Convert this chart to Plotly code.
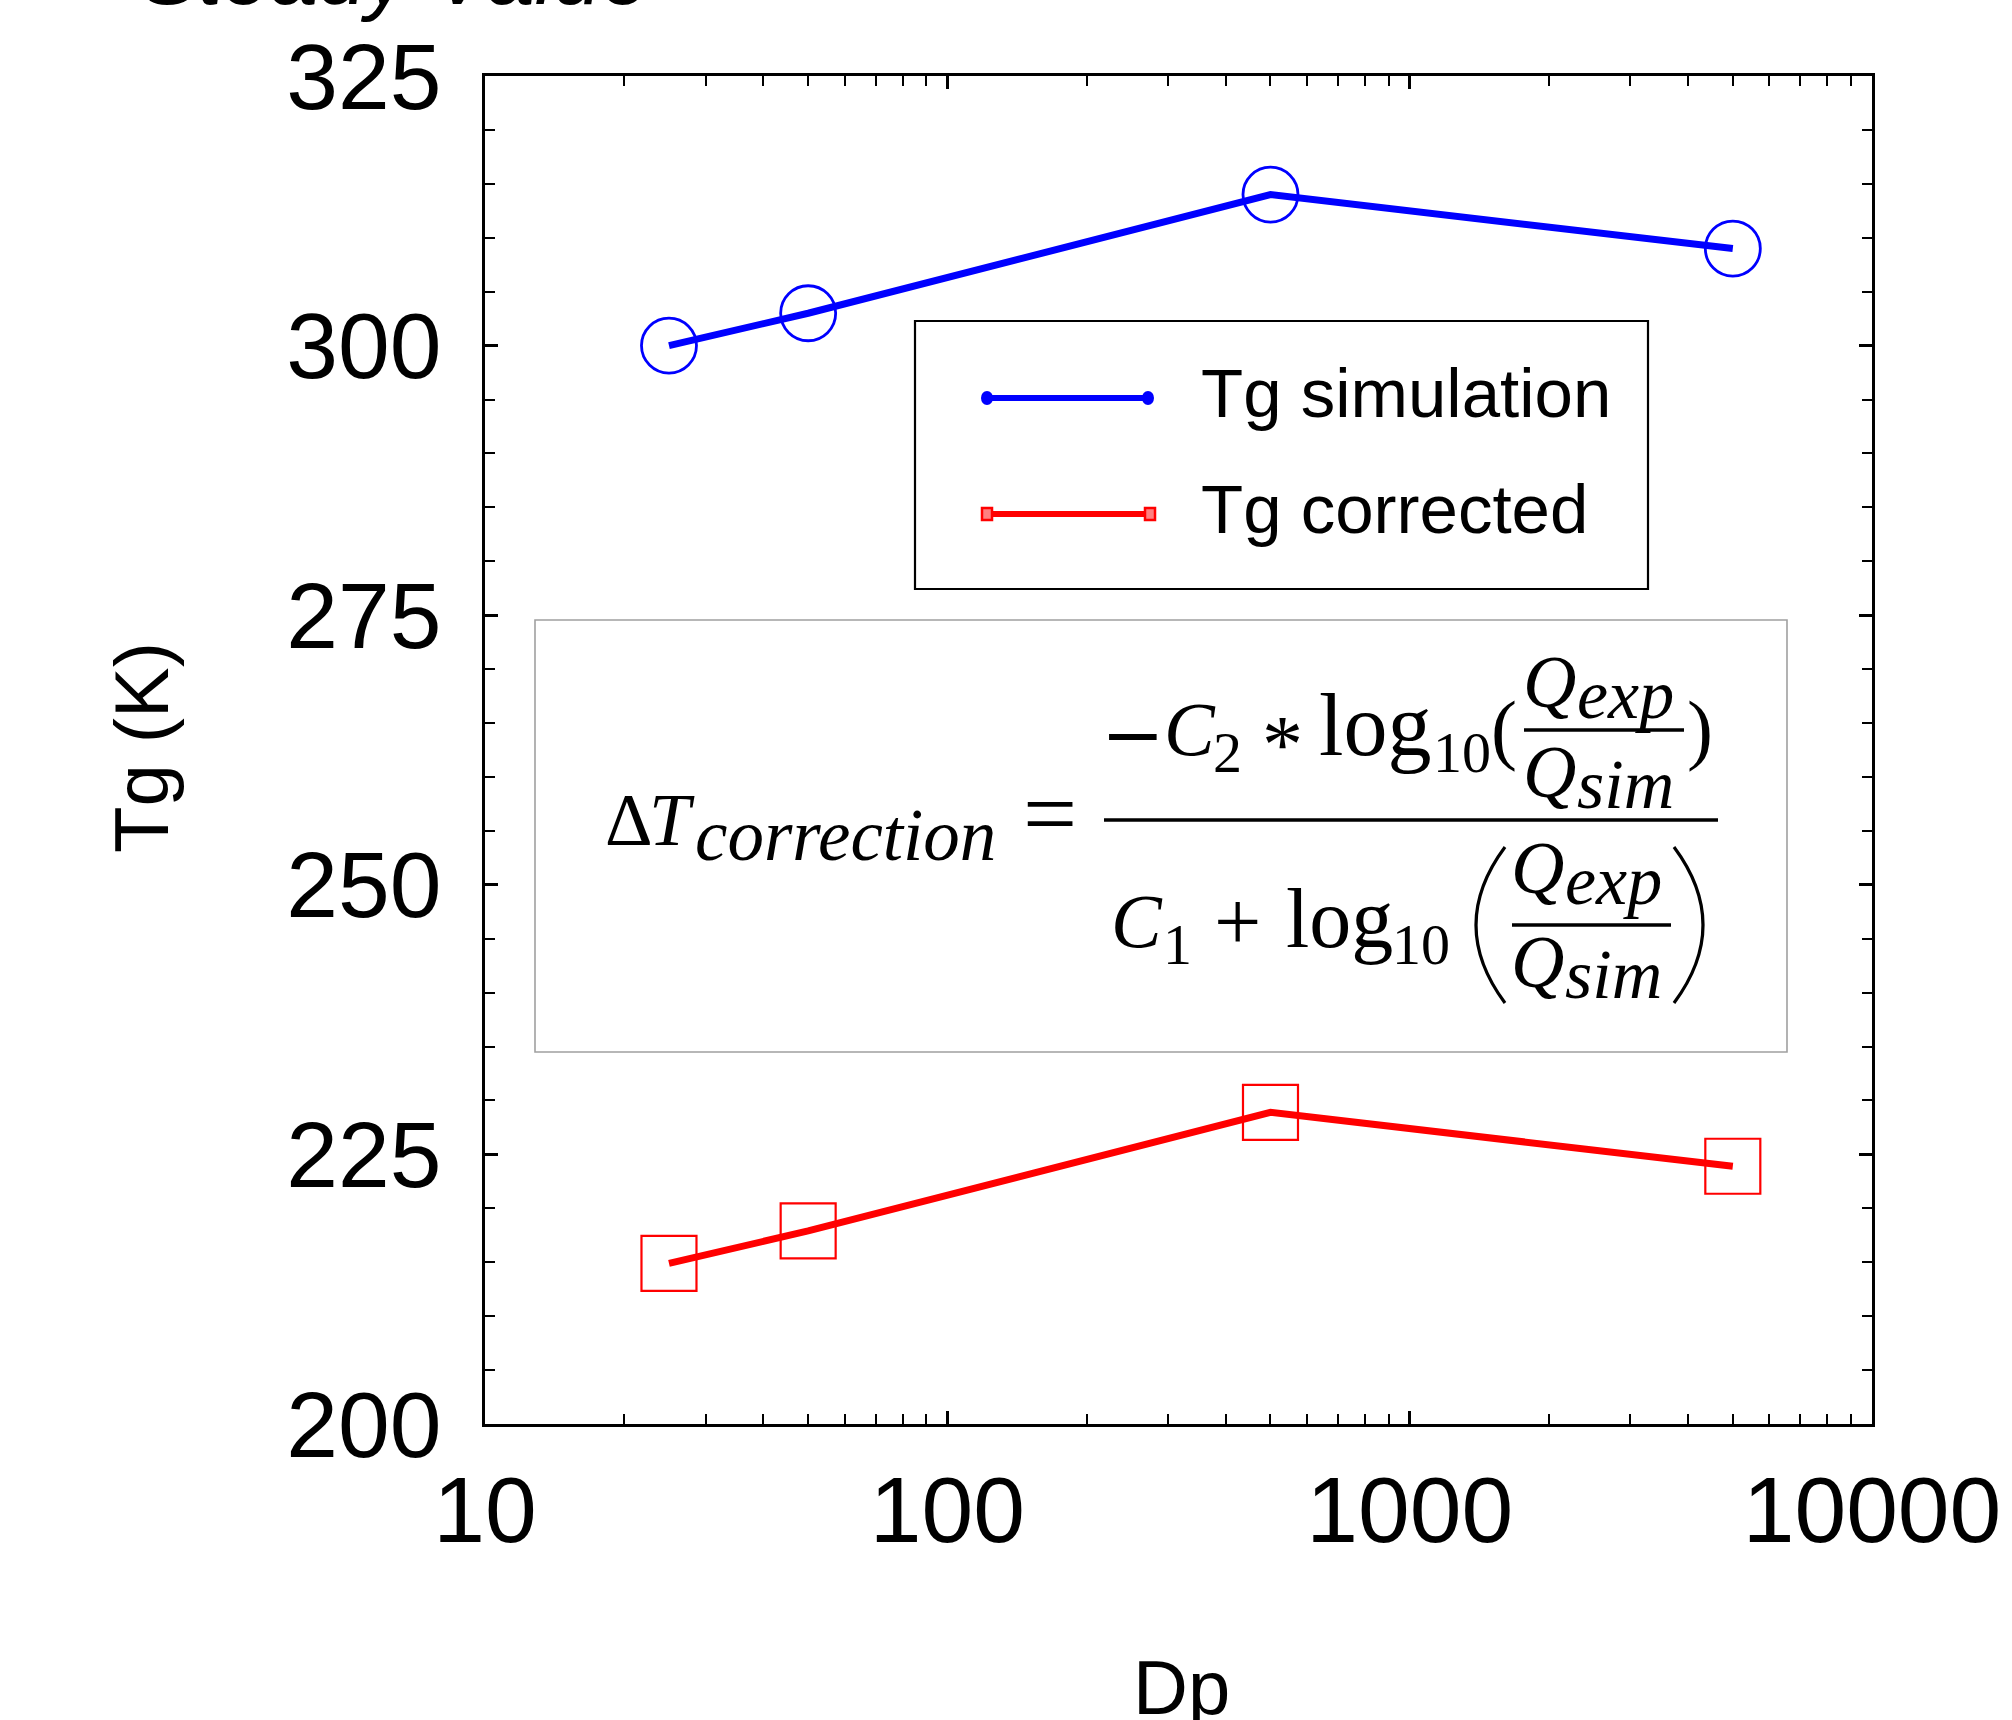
import plotly.graph_objects as go

# ---------------- data ----------------
dp = [25, 50, 500, 5000]
tg_simulation = [300.0, 303.0, 314.0, 309.0]
tg_corrected = [214.9, 217.9, 228.9, 223.9]

x_major_ticks = [10, 100, 1000, 10000]
x_minor_ticks = [m * d for d in (10, 100, 1000) for m in range(2, 10)]
y_range = [200, 325]

# ---------------- geometry helpers (figure pixels -> paper) ----------------
FIG_W, FIG_H = 2012, 1720
L, R, T, B = 485, 1872, 76, 1424


def px(x):
    return (x - L) / (R - L)


def py(y):
    return (B - y) / (B - T)


SANS = "Liberation Sans, Arial, sans-serif"
SERIF = "Liberation Serif, Times New Roman, serif"
DSERIF = "DejaVu Serif, serif"

annotations = []
shapes = []


def txt(s, x, base, size, family=SERIF, anchor="left", angle=0, k=None):
    if k is None:
        k = 0.347 if family == SANS else 0.3375
    annotations.append(dict(
        text=s, x=px(x), y=py(base - k * size), xref="paper", yref="paper",
        xanchor=anchor, yanchor="middle", showarrow=False, textangle=angle,
        font=dict(family=family, size=size, color="black"), borderpad=0,
    ))


def hline(x0, x1, y, width, color="black"):
    shapes.append(dict(type="line", xref="paper", yref="paper",
                       x0=px(x0), x1=px(x1), y0=py(y), y1=py(y),
                       line=dict(color=color, width=width)))


def rect(x0, y0, x1, y1, color, width):
    shapes.append(dict(type="rect", xref="paper", yref="paper",
                       x0=px(x0), x1=px(x1), y0=py(y0), y1=py(y1),
                       line=dict(color=color, width=width), fillcolor="white",
                       layer="above"))


def paren(x_end, x_bulge, y0, y1, width=3.2):
    # quadratic curve for a tall parenthesis
    cx = 2 * x_bulge - x_end
    ym = (y0 + y1) / 2
    path = f"M {px(x_end)},{py(y0)} Q {px(cx)},{py(ym)} {px(x_end)},{py(y1)}"
    shapes.append(dict(type="path", xref="paper", yref="paper", path=path,
                       line=dict(color="black", width=width)))


# ---------------- figure ----------------
fig = go.Figure()
fig.add_trace(go.Scatter(
    x=dp, y=tg_simulation, mode="lines+markers", name="Tg simulation",
    line=dict(color="#0000ff", width=7),
    marker=dict(symbol="circle-open", size=55, color="#0000ff",
                line=dict(color="#0000ff", width=2.8)),
    showlegend=False,
))
fig.add_trace(go.Scatter(
    x=dp, y=tg_corrected, mode="lines+markers", name="Tg corrected",
    line=dict(color="#ff0000", width=7),
    marker=dict(symbol="square-open", size=55, color="#ff0000",
                line=dict(color="#ff0000", width=2.2)),
    showlegend=False,
))

# ---- cut-off title at the very top ----
txt("<i>Steady Value</i>", 140, 4, 86, family=SANS)

# ---- axis titles ----
txt("Dp", 1181, 1714, 76, family=SANS, anchor="center")
annotations.append(dict(
    text="Tg (K)", x=px(141), y=py(748), xref="paper", yref="paper",
    xanchor="center", yanchor="middle", showarrow=False, textangle=-90,
    font=dict(family=SANS, size=76, color="black"), borderpad=0,
))

# ---- manual legend ----
rect(915, 321, 1648, 589, "black", 2.2)
hline(987, 1148, 398, 6, "#0000ff")
for cx in (987, 1148):
    shapes.append(dict(type="circle", xref="paper", yref="paper",
                       x0=px(cx - 5), x1=px(cx + 5), y0=py(398 - 6), y1=py(398 + 6),
                       line=dict(color="#0000ff", width=2), fillcolor="#0000ff"))
hline(987, 1150, 514, 6, "#ff0000")
for cx in (987, 1150):
    shapes.append(dict(type="rect", xref="paper", yref="paper",
                       x0=px(cx - 5), x1=px(cx + 5), y0=py(514 - 6), y1=py(514 + 6),
                       line=dict(color="#ff0000", width=2.5), fillcolor="#ff8080"))
txt("Tg simulation", 1200, 417, 69, family=SANS)
txt("Tg corrected", 1200, 533, 69, family=SANS)

# ---- formula box ----
rect(535, 620, 1787, 1052, "#a0a0a0", 1.6)

# left-hand side
txt("Δ", 604, 845, 74)
txt("<i>T</i>", 648, 845, 74)
txt("<i>correction</i>", 694, 860, 73)
txt("=", 1050, 846, 96, anchor="center")
hline(1104, 1718, 820, 3.6)

# numerator: −C2 * log10( Qexp / Qsim )
txt("−", 1133, 760, 76, family=DSERIF, anchor="center")
txt("<i>C</i>", 1163, 755, 76)
txt("2", 1212, 772, 58)
txt("*", 1282, 772, 82, anchor="center")
txt("log", 1318, 755, 88)
txt("10", 1432, 772, 58)
txt("(", 1490, 755, 78)
txt("<i>Q</i>", 1522, 707, 74)
txt("<i>exp</i>", 1576, 718, 70)
hline(1524, 1684, 730, 3.4)
txt("<i>Q</i>", 1522, 797, 74)
txt("<i>sim</i>", 1576, 808, 70)
txt(")", 1686, 755, 78)

# denominator: C1 + log10 ( Qexp / Qsim )
txt("<i>C</i>", 1110, 947, 76)
txt("1", 1162, 964, 58)
txt("+", 1237, 950, 84, anchor="center")
txt("log", 1285, 947, 84)
txt("10", 1391, 964, 58)
paren(1505, 1476, 847, 1003)
txt("<i>Q</i>", 1510, 893, 74)
txt("<i>exp</i>", 1564, 904, 70)
hline(1512, 1671, 925, 3.4)
txt("<i>Q</i>", 1510, 987, 74)
txt("<i>sim</i>", 1564, 998, 70)
paren(1674, 1703, 847, 1003)

axis_common = dict(
    showline=True, linecolor="black", linewidth=3, mirror="allticks",
    ticks="inside", tickcolor="black", tickwidth=2.5, ticklen=13,
    showgrid=False, zeroline=False,
    tickfont=dict(family=SANS, size=93, color="black"),
)

fig.update_layout(
    width=FIG_W, height=FIG_H,
    margin=dict(l=L, r=FIG_W - R, t=T, b=FIG_H - B, pad=0),
    paper_bgcolor="white", plot_bgcolor="white",
    showlegend=False,
    xaxis=dict(
        type="log", range=[1, 4], tickmode="array",
        tickvals=x_major_ticks, ticktext=[str(v) for v in x_major_ticks],
        ticklabelstandoff=3,
        minor=dict(tickmode="array", tickvals=x_minor_ticks, ticks="inside",
                   ticklen=10, tickwidth=2, tickcolor="black", showgrid=False),
        **axis_common,
    ),
    yaxis=dict(
        range=y_range, tickmode="linear", tick0=200, dtick=25,
        ticklabelstandoff=22,
        minor=dict(dtick=5, ticks="inside", ticklen=10, tickwidth=2,
                   tickcolor="black", showgrid=False),
        **axis_common,
    ),
    annotations=annotations,
    shapes=shapes,
)

fig.write_html("out.html")
